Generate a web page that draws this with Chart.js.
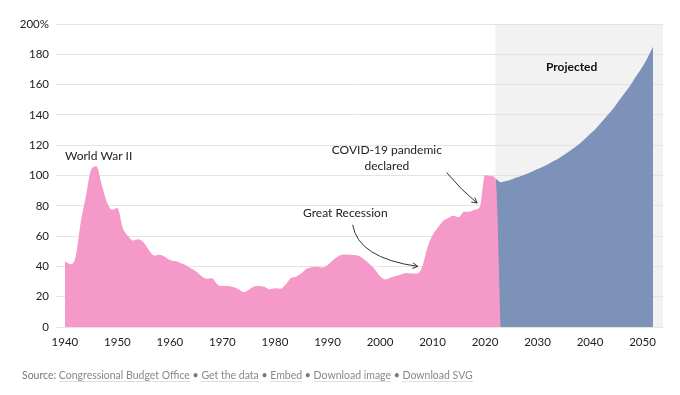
<!DOCTYPE html>
<html>
<head>
<meta charset="utf-8">
<script src="https://cdn.jsdelivr.net/npm/chart.js@4.4.0/dist/chart.umd.min.js"></script>
<style>
  body { margin: 0; background: #fff; }
  #wrap { position: relative; width: 680px; height: 395px; }
  #source {
    position: absolute; left: 22px; top: 369px;
    font: 10.5px Lato, sans-serif; color: #777; white-space: nowrap;
  }
  #source a { color: #888; text-decoration: none; border-bottom: 1px solid #cfe0ef; }
</style>
</head>
<body>
<div id="wrap">
  <canvas id="debtChart" width="680" height="395"></canvas>
  <div id="source">Source: <a>Congressional Budget Office</a> • <a>Get the data</a> • <a>Embed</a> • <a>Download image</a> • <a>Download SVG</a></div>
</div>
<script>
// DATA

// Federal debt held by the public, % of GDP, 1940-2022 (actual)
const histStart = 1940;
const histValues = [
  43.5, 41.5, 46, 69, 86.5, 103.9, 106.1, 94, 82.4, 77.4,
  78.5, 65.5, 60.1, 57.1, 57.9, 55.7, 50.6, 47.2, 47.7, 46.4,
  44.3, 43.5, 42.3, 41, 38.7, 36.7, 33.7, 31.8, 32.2, 28.3,
  27, 27.1, 26.4, 25.1, 23.1, 24.5, 26.7, 27.1, 26.6, 24.9,
  25.5, 25.2, 27.9, 32.1, 33.1, 35.3, 38.4, 39.5, 39.8, 39.3,
  40.8, 44, 46.6, 47.8, 47.7, 47.5, 46.8, 44.5, 41.6, 38.2,
  33.6, 31.4, 32.5, 33.6, 34.7, 35.6, 35.3, 35.2, 39.2, 52.2,
  60.6, 65.5, 70, 72, 73.4, 72.5, 76.1, 76, 77.4, 79.2,
  100.3, 99.6, 98,
  0, // series ends: drop to zero in 2023
];

// Projected, 2022-2052
const projStart = 2022;
const projValues = [
  98, 95.6, 96.3, 97.4, 98.6, 99.9, 101.2, 102.7, 104.3, 105.8,
  107.5, 109.4, 111.3, 113.5, 115.9, 118.3, 120.9, 124.1, 127.4, 130.6,
  134.5, 138.5, 142.4, 146.9, 151.6, 156.2, 161.3, 166.6, 171.8, 178.1,
  185,
];

const xTickYears = [1940, 1950, 1960, 1970, 1980, 1990, 2000, 2010, 2020, 2030, 2040, 2050];
const yTicks = [0, 20, 40, 60, 80, 100, 120, 140, 160, 180, 200];

const toPoints = (start, values) => values.map((v, i) => ({ x: start + i, y: v }));

// ANNOTATIONS (data coordinates)

const labels = [
  { text: "World War II", x: 1940, y: 113, align: "left" },
  { text: "Great Recession", x: 1993.4, y: 75.2, align: "center" },
  { text: "COVID-19 pandemic", x: 2001.3, y: 116.9, align: "center" },
  { text: "declared", x: 2001.3, y: 106.4, align: "center" },
  { text: "Projected", x: 2036.5, y: 171.8, align: "center", bold: true },
];

const arrows = [
  { from: [1994.8, 67.5], ctrl: [1995.8, 45.6], to: [2007.2, 40.0] },
  { from: [2012.7, 101.9], ctrl: [2015.4, 90.6], to: [2018.5, 81.8] },
];

const projectedShade = {
  id: "projectedShade",
  beforeDraw(chart) {
    const { ctx, chartArea, scales } = chart;
    const left = scales.x.getPixelForValue(projStart);
    ctx.save();
    ctx.fillStyle = "#f2f2f2";
    ctx.fillRect(left, chartArea.top, chartArea.right - left, chartArea.bottom - chartArea.top);
    ctx.restore();
  },
};

const notes = {
  id: "notes",
  afterDatasetsDraw(chart) {
    const { ctx, scales } = chart;
    const px = (p) => [scales.x.getPixelForValue(p[0]), scales.y.getPixelForValue(p[1])];
    ctx.save();
    ctx.textBaseline = "middle";
    labels.forEach((l) => {
      ctx.font = (l.bold ? "bold " : "") + "12px Lato";
      ctx.fillStyle = l.bold ? "#111" : "#222";
      ctx.textAlign = l.align;
      ctx.fillText(l.text, scales.x.getPixelForValue(l.x), scales.y.getPixelForValue(l.y));
    });

    ctx.strokeStyle = "#333";
    ctx.lineWidth = 1;
    arrows.forEach((a) => {
      const [sx, sy] = px(a.from);
      const [cx, cy] = px(a.ctrl);
      const [ex, ey] = px(a.to);
      ctx.beginPath();
      ctx.moveTo(sx, sy);
      ctx.quadraticCurveTo(cx, cy, ex, ey);
      ctx.stroke();
      const ang = Math.atan2(ey - cy, ex - cx);
      ctx.beginPath();
      ctx.moveTo(ex - 6 * Math.cos(ang - 0.5), ey - 6 * Math.sin(ang - 0.5));
      ctx.lineTo(ex, ey);
      ctx.lineTo(ex - 6 * Math.cos(ang + 0.5), ey - 6 * Math.sin(ang + 0.5));
      ctx.stroke();
    });
    ctx.restore();
  },
};

const debtChart = document.getElementById("debtChart");

new Chart(debtChart, {
  type: "line",
  data: {
    datasets: [
      {
        label: "Actual",
        data: toPoints(histStart, histValues),
        backgroundColor: "#f59ac8",
        borderWidth: 0,
        pointRadius: 0,
        fill: "origin",
        cubicInterpolationMode: "monotone",
        order: 1,
      },
      {
        label: "Projected",
        data: toPoints(projStart, projValues),
        backgroundColor: "#7d92b9",
        borderWidth: 0,
        pointRadius: 0,
        fill: "origin",
        cubicInterpolationMode: "monotone",
        order: 2,
      },
    ],
  },
  options: {
    responsive: false,
    animation: false,
    devicePixelRatio: 1,
    layout: { padding: { top: 24, right: 17, bottom: 40, left: 0 } },
    plugins: {
      legend: { display: false },
      tooltip: { enabled: false },
    },
    scales: {
      x: {
        type: "linear",
        min: 1938.3,
        max: 2053.9,
        afterBuildTicks: (axis) => {
          axis.ticks = xTickYears.map((v) => ({ value: v }));
        },
        afterFit: (axis) => {
          axis.height = 28;
        },
        grid: { display: false, drawTicks: false },
        border: { display: false },
        ticks: {
          autoSkip: false,
          maxRotation: 0,
          padding: 8,
          color: "#222",
          font: { family: "Lato", size: 11.5 },
          callback: (v) => String(v),
        },
      },
      y: {
        min: 0,
        max: 200,
        afterBuildTicks: (axis) => {
          axis.ticks = yTicks.map((v) => ({ value: v }));
        },
        afterFit: (axis) => {
          axis.width = 56;
        },
        grid: { color: "#e4e4e4", lineWidth: 1, drawTicks: false },
        border: { display: false },
        ticks: {
          padding: 7,
          color: "#222",
          font: { family: "Lato", size: 11.5 },
          callback: (v) => (v === 200 ? "200%" : v),
        },
      },
    },
  },
  plugins: [projectedShade, notes],
});
</script>
</body>
</html>
